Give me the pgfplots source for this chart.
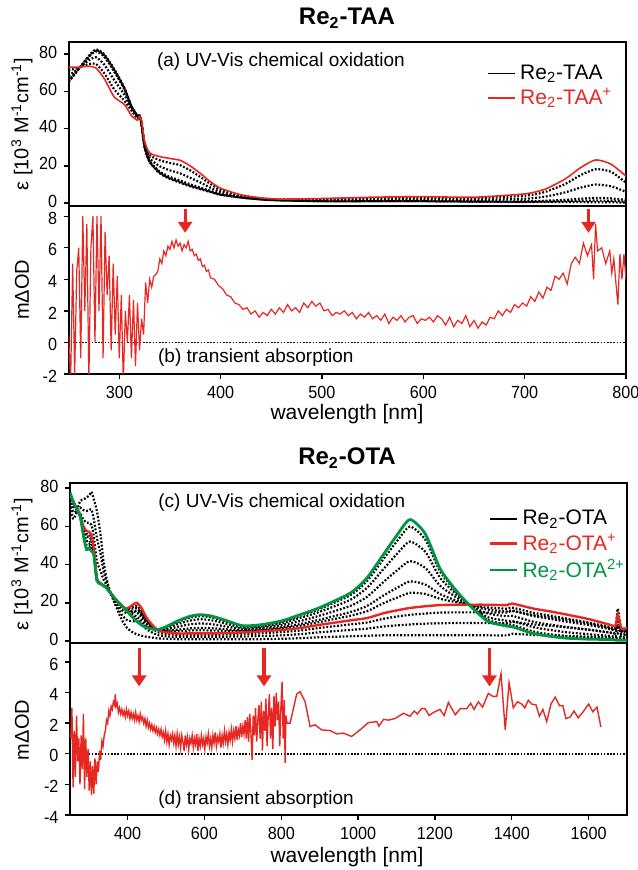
\documentclass[border=0pt]{standalone}
\usepackage{fontspec}
\setmainfont{Liberation Sans}
\usepackage{pgfplots}
\usepackage{pgfplotstable}
\pgfplotsset{compat=1.18}
\usetikzlibrary{arrows.meta}

\definecolor{myred}{RGB}{230,40,35}
\definecolor{mygreen}{RGB}{0,150,65}

\pgfplotsset{
  panel/.style={
    scale only axis, anchor=south west,
    axis line style={line width=0.9pt},
    tick align=outside, major tick length=2.5pt,
    tick style={black, line width=0.7pt},
    xtick pos=bottom, ytick pos=left,
    ticklabel style={font=\fontsize{8.8}{10}\selectfont, xscale=0.92},
    /pgf/number format/assume math mode=true,
    /pgf/number format/1000 sep={},
  },
  dots/.style={black, line width=1.1pt, dash pattern=on 0.9pt off 0.9pt, forget plot},
  zeroline/.style={black, line width=0.8pt, dash pattern=on 0.8pt off 0.8pt, forget plot},
  leg/.style={
    legend style={draw=none, fill=none, inner sep=0pt, row sep=-1pt,
      font=\fontsize{10.5}{12}\selectfont, cells={anchor=west}},
    legend image code/.code={\draw[##1] (0pt,0pt) -- (13.5pt,0pt);},
  },
}
\tikzset{arr/.style={myred, line width=1.6pt, -{Triangle[width=7pt,length=5.5pt]}}}

% (a) UV-Vis Re2-TAA: neutral, 4 intermediates, cation
\pgfplotstableread{
x    n    b1   b2   b3   b4   r
250  65   65.3 65.8 68.4 71.2 73
260  72   72.0 72.1 72.4 72.8 73
270  79   78.8 78.5 76.7 74.7 73.5
277  82.5 82.1 81.5 78.3 74.7 72.5
285  80   79.5 78.7 74.5 69.9 67
295  72   71.4 70.6 66.1 61.1 57
305  62   61.6 61.1 58.2 55.0 53
312  52   51.9 51.7 50.7 49.7 47
318  47   46.9 46.8 46.2 45.4 44.5
320  47   47   47   46.8 46.6 46.5
322  42   42.1 42.2 42.8 43.6 44
325  30   30.1 30.3 31.3 32.3 33
330  22   22.2 22.5 24.1 25.9 27
340  16   16.4 16.9 19.8 23   25
350  13   13.4 14.1 17.6 21.6 24
360  11   11.5 12.2 16   20.4 23
370  9    9.4  10.1 13.6 17.6 20
380  7.5  7.8  8.4  11.1 14.1 16
390  6    6.2  6.6  8.3  10.3 11.5
400  4.5  4.6  4.9  6    7.2  8
420  3    3.1  3.2  3.6  4.2  4.5
440  2    2    2.1  2.3  2.6  2.8
460  1.5  1.5  1.6  1.8  2.0  2.2
500  1    1.1  1.2  1.6  2.2  2.5
550  1    1.1  1.2  1.9  2.7  3.2
600  1    1.1  1.3  2.1  3.0  3.5
650  0.8  0.9  1.0  1.8  2.7  3.2
700  0.6  0.8  1.0  2.4  4.0  5
720  0.6  0.9  1.3  3.5  6.0  7.5
740  0.6  1.1  1.8  5.8  10.3 13
755  0.6  1.3  2.4  8.3  15.0 19
770  0.5  1.4  2.8  10.0 18.2 23.2
785  0.5  1.3  2.6  9.1  16.9 21
800  0.3  0.8  1.7  6.1  11.0 14.5
}\tabA

% (c) UV-Vis Re2-OTA: neutral, 2 to cation, cation, 5 to dication, dication
\pgfplotstableread{
x    N    f1   f2   C    g1   g2   g3   g4   g5   D
250  72   74   75.8 77   77.1 77.2 77.3 77.4 77.5 77.5
258  64   67.6 70.8 73   73   73   73   73   73   73
265  66   67.6 69   70   70   70   70   70   70   70
276  73   69.8 67   65   65.2 65.3 65.5 65.8 65.9 66
285  74   68.4 63.5 60   59.2 58.5 57.4 56.3 55.4 55
293  75   68   61.9 57.5 55.9 54.6 52.4 50.2 48.6 47.8
300  76   68.4 61.8 57   55.6 54.5 52.5 50.6 49.2 48.5
306  78   68.8 60.8 55   53.6 52.6 50.8 49   47.6 47
312  74   63.6 54.5 48   47.5 47.1 46.4 45.8 45.2 45
320  68   54   41.8 33   32.7 32.6 32.2 31.9 31.6 31.5
330  55   45   36.3 30   30   30   30   30   30   30
337  42   36.8 32.3 29   29   29   29   29   29   29
345  33   31   29.3 28   27.9 27.9 27.8 27.8 27.7 27.7
354  26   25.8 25.6 25.5 25.5 25.5 25.5 25.5 25.5 25.5
372  17   18.6 20   21   21   21   21   21   21   21
385  11   13.8 16.3 18   18.1 18.2 18.3 18.4 18.5 18.5
398  7    11   14.5 17   16.8 16.6 16.3 16   15.8 15.7
410  5    10.4 15.1 18.5 17.6 16.9 15.6 14.4 13.4 13
424  3.5  10.1 15.9 20   18.4 17.1 14.9 12.7 11.1 10.3
437  2.8  8.5  13.5 17   15.5 14.4 12.4 10.5 9    8.3
450  2.2  6.1  9.6  12   11.2 10.5 9.4  8.3  7.4  7
476  1.5  3.3  4.9  6    6    6    5.9  5.9  5.9  5.9
500  1.2  2.5  3.7  4.5  5    5.4  6.1  6.8  7.3  7.5
528  1    2.2  3.3  4    5.1  5.9  7.3  8.7  9.8  10.3
560  1    2.2  3.3  4    5.5  6.6  8.7  10.6 12.1 12.8
588  1    2.2  3.3  4    5.7  6.9  9.2  11.4 13   13.8
620  1    2.2  3.3  4    5.5  6.7  8.8  10.8 12.3 13
660  1    2.3  3.4  4.2  5.3  6.1  7.5  8.9  10   10.5
700  1    2.4  3.6  4.5  5.1  5.6  6.4  7.1  7.7  8
745  1    2.6  4    5    5.6  6.1  6.9  7.6  8.2  8.5
800  1.2  3    4.7  5.8  6.6  7.2  8.3  9.3  10.1 10.5
849  1.5  3.6  5.5  6.8  8    8.9  10.5 12.1 13.2 13.8
900  2    4.6  6.9  8.5  10   11.2 13.3 15.3 16.8 17.5
979  2.5  5.8  8.7  10.8 13.2 15.1 18.3 21.5 23.9 25
1023 2.8  6.5  9.7  12   15.6 18.3 23.1 27.8 31.3 33
1065 3    7.6  11.6 14.5 19.7 23.7 30.7 37.4 42.6 45
1100 3    8.2  12.8 16   22.6 27.7 36.7 45.3 51.9 55
1135 3    8.7  13.7 17.3 25.2 31.2 41.8 52   59.8 63.5
1175 3    9.1  14.4 18.2 24.6 29.5 38.2 46.6 53   56
1213 3    9.3  14.9 18.8 22.1 24.6 29   33.2 36.5 38
1250 3    9.4  15   19   20.5 21.6 23.6 25.5 27   27.7
1284 3    9.4  15   19   19.2 19.3 19.5 19.8 19.9 20
1336 3    9.4  15   19   17.6 16.5 14.5 12.6 11.2 10.5
1388 3    9.3  14.9 18.8 16.9 15.5 13   10.6 8.7  7.8
1401 3.8  10.1 15.7 19.6 17.5 16   13.2 10.5 8.5  7.5
1456 3.2  8.7  13.6 17   14.8 13.1 10.1 7.3  5    4
1500 3    8    12.4 15.5 13.3 11.6 8.6  5.8  3.5  2.5
1544 2.7  7.1  11   13.8 11.7 10.1 7.3  4.6  2.5  1.5
1600 2.3  6    9.2  11.5 9.7  8.4  5.9  3.6  1.8  1
1656 1.8  4.5  6.8  8.5  7.2  6.2  4.4  2.7  1.4  0.8
1670 1.5  4.1  6.4  8    6.7  5.8  4    2.3  1.1  0.5
1676 1.5  8    12   14   17   12   8    4    1    0.5
1685 1.5  3.6  5.5  6.8  5.7  4.9  3.5  2.1  1    0.5
1700 1.5  3.6  5.5  6.8  5.7  4.9  3.5  2.1  1    0.5
}\tabC

\begin{document}
\begin{tikzpicture}
\useasboundingbox (0,0) rectangle (318.5pt,435pt);

% ---------- (a) ----------
\begin{axis}[panel, leg, at={(34.3pt,332pt)}, width=278.7pt, height=82pt,
  xmin=250, xmax=800, ymin=-1.5, ymax=86.5,
  xtick=\empty, ytick={0,20,40,60,80},
  yticklabel style={yshift=1pt},
  legend style={at={(rel axis cs:0.751,0.888)}, anchor=north west}]
\addlegendimage{black, line width=0.7pt}
\addlegendentry{Re\textsubscript{2}-TAA}
\addplot[dots, smooth, tension=0.4] table[x=x, y=n] {\tabA};
\addplot[dots, smooth, tension=0.4] table[x=x, y=b1] {\tabA};
\addplot[dots, smooth, tension=0.4] table[x=x, y=b2] {\tabA};
\addplot[dots, smooth, tension=0.4] table[x=x, y=b3] {\tabA};
\addplot[dots, smooth, tension=0.4] table[x=x, y=b4] {\tabA};
\addplot[myred, line width=0.8pt, smooth, tension=0.4] table[x=x, y=r] {\tabA};
\addlegendentry{\textcolor{myred}{Re\textsubscript{2}-TAA\textsuperscript{+}}}
\node[anchor=west, font=\fontsize{9.5}{11}\selectfont] at (rel axis cs:0.146,0.878) {(a) UV-Vis chemical oxidation};
\end{axis}

% ---------- (b) ----------
\begin{axis}[panel, at={(34.3pt,248pt)}, width=278.7pt, height=84pt,
  xmin=250, xmax=800, ymin=-2, ymax=8.65,
  xtick={300,400,...,800}, ytick={-2,0,...,8},
  yticklabel style={yshift=-1pt}]
\addplot[zeroline] coordinates {(254,0) (800,0)};
\addplot[myred, line width=0.6pt] coordinates {
(250,0.5) (252,-2.5) (254,5) (256,-2) (258,4.5) (260,6) (262,-1) (264,8) (266,2) (268,7.5) (270,-2.5) (272,6) (274,8) (276,0) (278,8) (280,2) (282,8) (284,-1) (286,7) (288,3) (290,5.5) (292,-0.5) (294,5) (296,0.5) (298,4.2) (300,-1) (302,3) (304,-2.5) (306,2) (308,0) (310,3) (312,-1) (314,2.7) (316,-1.5) (318,2.5) (320,-0.5) (322,1.5) (324,0.5) (326,3.8) (328,2.5) (330,4) (332,3.5) (334,4.2) (336,4.3) (338,4.5) (340,5.3) (342,5) (344,5.8) (346,5.5) (348,6.1) (350,5.9) (352,6.4) (354,6) (356,6.5) (358,6.1) (360,6.3) (362,5.8) (364,6.2) (366,6) (368,6.4) (370,5.8) (372,5.9) (374,5.5) (376,5.6) (378,5.2) (380,5.3) (382,4.8) (384,4.9) (386,4.5) (388,4.6) (390,4.1) (394,4.0) (398,3.6) (402,3.4) (406,3.0) (410,2.9) (414,2.5) (418,2.4) (422,2.1) (426,2.2) (430,1.8) (434,2.0) (438,1.6) (442,1.9) (446,1.7) (450,2.1) (454,1.8) (458,2.2) (462,1.9) (466,2.4) (470,2.0) (474,2.2) (478,1.9) (482,2.5) (486,2.2) (490,2.6) (494,2.3) (498,2.5) (502,2.0) (506,2.1) (510,1.7) (514,1.9) (518,1.8) (522,2.0) (526,1.7) (530,1.9) (534,1.5) (538,1.8) (542,1.6) (546,1.9) (550,1.5) (554,1.7) (558,1.4) (562,1.8) (566,1.2) (570,1.6) (574,1.4) (578,1.7) (582,1.3) (586,1.6) (590,1.7) (594,1.2) (598,1.5) (602,1.4) (606,1.6) (610,1.3) (614,1.7) (618,1.5) (622,1.1) (626,1.6) (630,1.0) (634,1.4) (638,1.2) (642,1.7) (646,1.0) (650,1.4) (654,0.9) (658,1.3) (662,1.1) (666,1.6) (670,1.5) (674,2.0) (678,1.7) (682,2.1) (686,1.9) (690,2.4) (694,2.2) (698,2.5) (702,2.3) (706,2.9) (710,2.6) (714,3.2) (718,2.8) (722,3.5) (726,3.3) (730,4.2) (734,4.0) (738,4.4) (742,3.7) (746,5.0) (750,5.4) (754,5.0) (758,6.3) (762,5.5) (766,6.2) (768,4.0) (770,7.5) (772,5.8) (776,6.0) (780,5.0) (784,5.8) (786,4.4) (788,5.3) (790,3.8) (792,2.4) (794,5.6) (796,4.0) (798,5.6) (800,4.0)
};
\draw[arr] (axis cs:365,8.45) -- (axis cs:365,6.95);
\draw[arr] (axis cs:763,8.45) -- (axis cs:763,6.95);
\node[anchor=west, font=\fontsize{9.5}{11}\selectfont] at (rel axis cs:0.148,0.10) {(b) transient absorption};
\end{axis}

% ---------- (c) ----------
\begin{axis}[panel, leg, at={(35pt,113.5pt)}, width=278.5pt, height=80pt,
  xmin=250, xmax=1700, ymin=-1, ymax=82.6,
  xtick=\empty, ytick={0,20,40,60,80},
  yticklabel style={yshift=1pt},
  legend style={at={(rel axis cs:0.751,0.857)}, anchor=north west}]
\addlegendimage{black, line width=0.8pt}
\addlegendentry{Re\textsubscript{2}-OTA}
\addplot[dots, smooth, tension=0.4] table[x=x, y=N] {\tabC};
\addplot[dots, smooth, tension=0.4] table[x=x, y=f1] {\tabC};
\addplot[dots, smooth, tension=0.4] table[x=x, y=f2] {\tabC};
\addplot[dots, smooth, tension=0.4] table[x=x, y=g1] {\tabC};
\addplot[dots, smooth, tension=0.4] table[x=x, y=g2] {\tabC};
\addplot[dots, smooth, tension=0.4] table[x=x, y=g3] {\tabC};
\addplot[dots, smooth, tension=0.4] table[x=x, y=g4] {\tabC};
\addplot[dots, smooth, tension=0.4] table[x=x, y=g5] {\tabC};
\addplot[myred, line width=1.2pt, smooth, tension=0.4] table[x=x, y=C] {\tabC};
\addlegendentry{\textcolor{myred}{Re\textsubscript{2}-OTA\textsuperscript{+}}}
\addplot[mygreen, line width=1.4pt, smooth, tension=0.4] table[x=x, y=D] {\tabC};
\addlegendentry{\textcolor{mygreen}{Re\textsubscript{2}-OTA\textsuperscript{2+}}}
\node[anchor=west, font=\fontsize{9.5}{11}\selectfont] at (rel axis cs:0.146,0.875) {(c) UV-Vis chemical oxidation};
\end{axis}

% ---------- (d) ----------
\begin{axis}[panel, at={(35pt,27.5pt)}, width=278.5pt, height=86pt,
  xmin=250, xmax=1700, ymin=-4, ymax=7.24,
  xtick={400,600,...,1600}, ytick={-4,-2,...,6},
  yticklabel style={yshift=-1pt}]
\addplot[zeroline] coordinates {(290,0) (1700,0)};
\addplot[myred, line width=0.7pt] coordinates {
(252,1) (255,3) (258,-2.2) (261,1.5) (264,-1.5) (267,2.5) (270,-0.5) (273,1) (276,-2) (279,1.2) (282,-1) (285,2.6) (288,-2.3) (291,1) (294,-1.5) (297,0.3) (300,-2.4) (303,-0.5) (306,-2.7) (309,-0.8) (312,-2.6) (315,-0.3) (318,-2) (321,-0.5) (324,-1.2) (327,0.2) (330,-0.4) (333,0.8) (336,0.5) (339,1.2) (342,1.5) (345,2.2) (348,2.0) (351,2.8) (354,2.5) (357,3.1) (360,2.9) (363,3.4) (366,3.2) (368,3.9) (370,3.1) (373,3.3) (376,2.7) (379,3.0) (382,2.6) (385,2.9) (388,2.5) (391,2.8) (394,2.4) (397,2.9) (400,2.5) (403,2.8) (406,2.3) (409,2.7) (412,2.3) (415,2.6) (418,2.2) (421,2.7) (424,2.2) (427,2.5) (430,2.1) (433,2.6) (436,2.2) (439,2.4) (442,2.0) (445,2.3) (448,1.8) (451,2.2) (454,1.7) (457,2.0) (460,1.6) (463,1.9) (466,1.5) (469,1.8) (472,1.4) (475,1.7) (478,1.3) (481,1.6) (484,1.2) (487,1.6) (490,1.1) (493,1.4) (496,0.9) (499,1.5) (502,0.8) (505,1.3) (508,0.6) (511,1.2) (514,0.9) (517,1.3) (520,0.7) (523,1.2) (526,0.5) (529,1.3) (532,0.6) (535,1.1) (538,0.4) (541,1.2) (544,0.8) (547,0.2) (550,1.2) (553,0.6) (556,1.1) (559,0.3) (562,1.0) (565,0.7) (568,1.2) (571,0.4) (574,1.0) (577,0.6) (580,1.3) (583,0.2) (586,1.0) (589,0.5) (592,1.2) (595,0.6) (598,1.0) (601,0.3) (604,1.1) (607,0.7) (610,1.3) (613,0.5) (616,1.0) (619,0.4) (622,1.2) (625,0.7) (628,1.4) (631,0.5) (634,1.1) (637,0.8) (640,1.3) (643,0.4) (646,1.2) (649,0.7) (652,1.5) (655,0.8) (658,1.3) (661,0.6) (664,1.4) (667,0.9) (670,1.6) (673,0.8) (676,1.5) (679,1.0) (682,1.8) (685,0.9) (688,1.6) (691,1.2) (694,2.0) (697,1.1) (700,1.8) (703,1.3) (706,2.2) (709,1.0) (712,2.4) (715,0.8) (718,2.6) (721,1.4) (724,-0.4) (727,2.5) (730,1.2) (733,3.0) (736,0.8) (739,2.2) (742,3.2) (745,1.0) (748,3.4) (751,0.2) (754,2.8) (757,1.5) (760,3.6) (763,0.5) (766,2.5) (769,3.9) (772,1.0) (775,3.0) (778,0.3) (781,3.8) (784,1.8) (787,4.0) (790,2.2) (793,3.4) (796,0.5) (799,3.0) (802,4.7) (805,1.0) (808,3.5) (810,-0.6) (812,2.5) (815,2.0) (823,2.0) (832,3.0) (840,3.9) (849,4.06) (862,3.4) (875,1.78) (888,1.89) (905,1.56) (927,1.52) (944,1.3) (962,1.35) (983,1.13) (1005,1.56) (1027,2.04) (1049,2.1) (1054,1.8) (1066,2.25) (1079,2.2) (1096,2.3) (1118,2.65) (1135,2.45) (1146,2.8) (1154,2.6) (1166,2.97) (1174,2.95) (1185,2.5) (1196,2.7) (1213,2.9) (1224,2.5) (1235,3.35) (1253,2.55) (1266,2.95) (1283,2.95) (1293,3.3) (1302,2.9) (1313,3.4) (1324,3.05) (1339,3.95) (1351,3.75) (1361,3.75) (1372,5.25) (1383,1.56) (1393,4.65) (1404,3.0) (1415,3.4) (1426,3.25) (1434,3.0) (1443,3.5) (1452,3.25) (1463,3.2) (1472,2.45) (1481,2.9) (1491,2.1) (1502,3.25) (1513,3.7) (1524,3.15) (1533,3.15) (1541,2.3) (1552,2.4) (1562,2.8) (1573,2.35) (1586,2.75) (1600,3.25) (1611,2.75) (1622,3.05) (1632,1.75)
};
\draw[arr] (axis cs:430,6.9) -- (axis cs:430,4.4);
\draw[arr] (axis cs:755,6.9) -- (axis cs:755,4.4);
\draw[arr] (axis cs:1342,6.9) -- (axis cs:1342,4.4);
\node[anchor=west, font=\fontsize{9.5}{11}\selectfont] at (rel axis cs:0.146,0.087) {(d) transient absorption};
\end{axis}

% ---------- titles and axis labels ----------
\node[font=\bfseries\fontsize{12}{14}\selectfont] at (173.5pt,426pt) {Re\textsubscript{2}-TAA};
\node[font=\bfseries\fontsize{12}{14}\selectfont] at (173.5pt,206pt) {Re\textsubscript{2}-OTA};
\node[rotate=90, font=\fontsize{10}{12}\selectfont] at (11pt,373pt) {ε [10\textsuperscript{3} M\textsuperscript{-1}cm\textsuperscript{-1}]};
\node[rotate=90, font=\fontsize{10}{12}\selectfont] at (11pt,290pt) {mΔOD};
\node[rotate=90, font=\fontsize{10}{12}\selectfont] at (11pt,153pt) {ε [10\textsuperscript{3} M\textsuperscript{-1}cm\textsuperscript{-1}]};
\node[rotate=90, font=\fontsize{10}{12}\selectfont] at (11pt,70pt) {mΔOD};
\node[font=\fontsize{10.5}{12}\selectfont] at (173.5pt,228pt) {wavelength [nm]};
\node[font=\fontsize{10.5}{12}\selectfont] at (173.5pt,6.5pt) {wavelength [nm]};
\end{tikzpicture}
\end{document}
